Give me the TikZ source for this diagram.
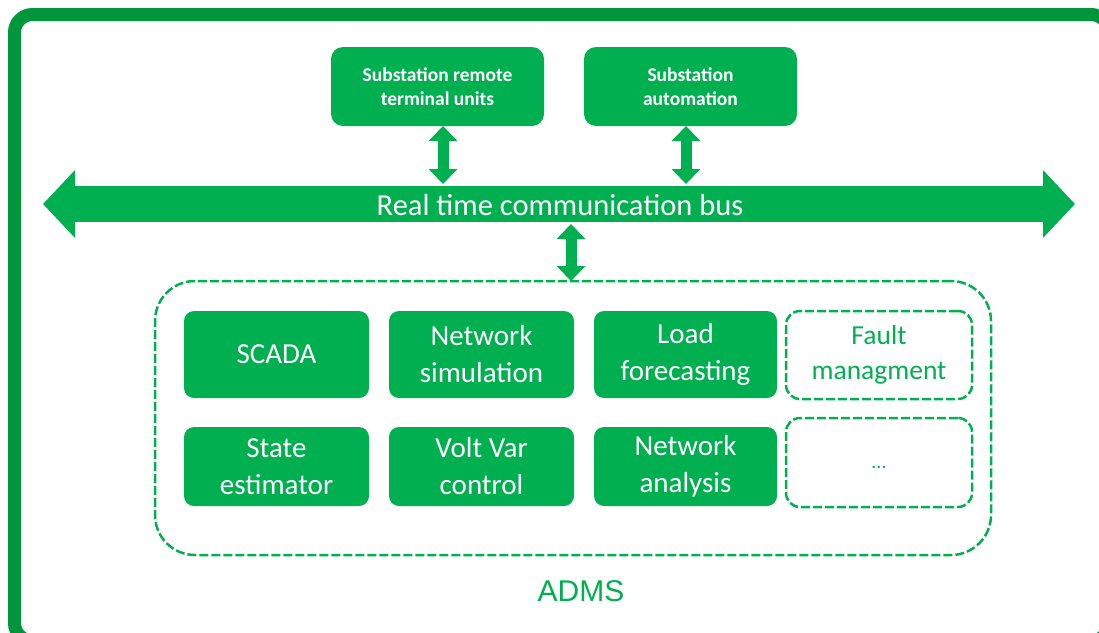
\documentclass[tikz,border=0pt]{standalone}
\usepackage{fontspec}
\setmainfont{Carlito}
\newfontfamily\admsfont{Liberation Sans}
\usetikzlibrary{arrows.meta}
\definecolor{gr}{RGB}{0,176,80}
\definecolor{dgr}{RGB}{0,150,57}
\tikzset{
  topbox/.style={fill=gr, rounded corners=12pt, minimum width=213pt, minimum height=79pt, text=white, align=center, inner sep=0pt, font=\bfseries\fontsize{19.5}{24}\selectfont},
  modbox/.style={fill=gr, rounded corners=10pt, minimum width=185pt, minimum height=#1, text=white, align=center, inner sep=0pt, font=\fontsize{29}{37}\selectfont},
  dmodbox/.style={draw=gr, line width=2.5pt, dash pattern=on 9pt off 3pt, rounded corners=14pt, minimum width=186pt, minimum height=#1, text=gr, align=center, inner sep=0pt, font=\fontsize{27.5}{35}\selectfont},
  vlink/.style={gr, line width=11pt, {Triangle[width=28pt,length=15pt]}-{Triangle[width=28pt,length=15pt]}},
  buslink/.style={gr, line width=36pt, {Triangle[width=66pt,length=32pt]}-{Triangle[width=66pt,length=32pt]}},
}
\begin{document}
\begin{tikzpicture}[x=1pt,y=-1pt]
\useasboundingbox (0,0) rectangle (1099,632);
\clip (0,0) rectangle (1099,632);
% outer frame
\draw[dgr, line width=13pt, rounded corners=18pt] (14.5,14.5) rectangle (1109,641);
% top boxes
\node[topbox] (rtu) at (437.5,86.5) {Substation remote\\terminal units};
\node[topbox] (sa) at (690.5,86.5) {Substation\\automation};
% bus
\coordinate (busL) at (43,204);
\coordinate (busR) at (1075,204);
\draw[buslink] (busL) -- (busR);
\node[text=white, font=\fontsize{30.5}{34}\selectfont, inner sep=0pt] (bus) at (560,205) {Real time communication bus};
\coordinate (b1) at (443,184);
\coordinate (b2) at (686,184);
\coordinate (b3) at (571,224);
\coordinate (r1) at (443,126);
\coordinate (r2) at (686,126);
% ADMS container
\node[draw=gr, line width=2.5pt, dash pattern=on 9pt off 3pt, rounded corners=40pt, minimum width=836pt, minimum height=274pt, inner sep=0pt] (adms) at (573,418) {};
\coordinate (a1) at (571,281);
\draw[vlink] (r1) -- (b1);
\draw[vlink] (r2) -- (b2);
\draw[vlink] (b3) -- (a1);
% modules row 1
\node[modbox=87pt] (scada) at (276.5,354.5) {SCADA};
\node[modbox=87pt] (netsim) at (481.5,354.5) {Network\\simulation};
\node[modbox=87pt, minimum width=183pt] (load) at (685.5,354.5) {Load\\forecasting};
\node[dmodbox=88pt] (fault) at (879,355) {Fault\\managment};
% modules row 2
\node[modbox=79pt] (state) at (276.5,466.5) {State\\estimator};
\node[modbox=79pt] (volt) at (481.5,466.5) {Volt Var\\control};
\node[modbox=79pt, minimum width=183pt] (netan) at (685.5,466.5) {Network\\analysis};
\node[dmodbox=89pt, font=\fontsize{20}{24}\selectfont, align=flush center, text height=11pt, text depth=0pt] (more) at (879,462.5) {...};
% label
\node[text=gr, font=\admsfont\fontsize{30}{34}\selectfont, inner sep=0pt] (lbl) at (581,591) {ADMS};
\end{tikzpicture}
\end{document}
